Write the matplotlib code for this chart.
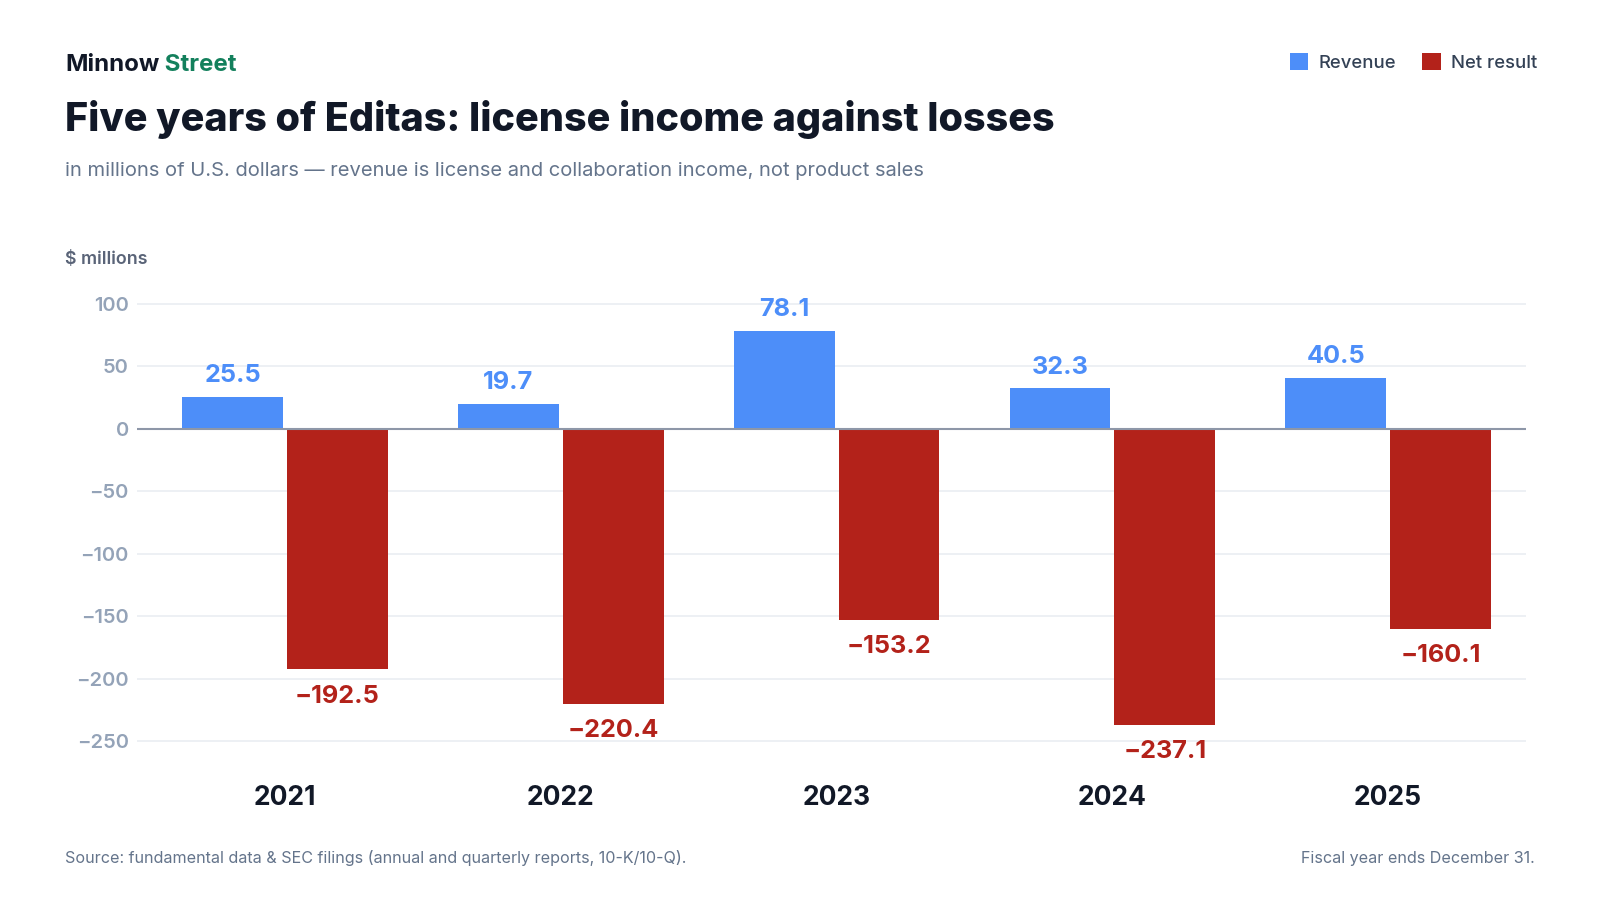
import matplotlib
matplotlib.use("Agg")
import matplotlib.pyplot as plt
import numpy as np

years = ["2021", "2022", "2023", "2024", "2025"]
revenue = [25.5, 19.7, 78.1, 32.3, 40.5]
net_result = [-192.5, -220.4, -153.2, -237.1, -160.1]
yticks = [-250, -200, -150, -100, -50, 0, 50, 100]

BLUE = "#4d8ef9"
RED = "#b3221a"
DARK = "#111827"
GREEN = "#13805c"
SLATE = "#64748b"
TICK = "#94a3b8"

plt.rcParams["font.family"] = ["Inter", "DejaVu Sans"]

W, H = 1600, 900
fig = plt.figure(figsize=(16, 9), dpi=100)
fig.patch.set_facecolor("white")

def fx(px):
    return px / W

def fy(py):
    return 1 - py / H

# axes placement
ax = fig.add_axes([fx(137), fy(766.2), fx(1389), 475 / H])
x = np.arange(len(years))
off = 0.19
bw = 0.366
b1 = ax.bar(x - off, revenue, width=bw, color=BLUE, label="Revenue", zorder=3)
b2 = ax.bar(x + off, net_result, width=bw, color=RED, label="Net result", zorder=3)

ax.set_xlim(-0.537, 4.5)
ax.set_ylim(-270, 110)
ax.set_yticks(yticks)
ax.set_yticklabels([f"{v}".replace("-", "\u2212") for v in yticks])
ax.set_xticks(x)
ax.set_xticklabels(years)
for s in ax.spines.values():
    s.set_visible(False)
ax.tick_params(axis="y", length=0, pad=5.8, labelsize=14.5, labelcolor=TICK)
ax.tick_params(axis="x", length=0, pad=13.5, labelsize=19, labelcolor=DARK)
for t in ax.get_yticklabels():
    t.set_fontweight("semibold")
for t in ax.get_xticklabels():
    t.set_fontweight("bold")
ax.grid(axis="y", color="#e8ecf1", linewidth=1.1, zorder=0)
ax.axhline(0, color="#8e97a8", linewidth=1.5, zorder=4)

for xi, v in zip(x, revenue):
    ax.annotate(f"{v:.1f}", xy=(xi - off, v), xytext=(0, 10.6), textcoords="offset points",
                ha="center", va="baseline", fontsize=18.2, fontweight="bold", color=BLUE)
for xi, v in zip(x + off, net_result):
    ax.annotate(f"{v:.1f}".replace("-", "\u2212"), xy=(xi, v), xytext=(0, -11),
                textcoords="offset points", ha="center", va="top", fontsize=18.2,
                fontweight="bold", color=RED)

# header
t1 = fig.text(fx(65), fy(70.7), "Minnow", fontsize=17.3, fontweight="bold", color=DARK, va="baseline")
fig.canvas.draw()
ax.annotate(" Street", xy=(1, 0), xycoords=t1, ha="left", va="bottom",
            fontsize=17.3, fontweight="bold", color=GREEN, annotation_clip=False)
fig.text(fx(65), fy(131), "Five years of Editas: license income against losses",
         fontsize=28.5, fontweight=800, color=DARK, va="baseline")
fig.text(fx(65), fy(176),
         "in millions of U.S. dollars \u2014 revenue is license and collaboration income, not product sales",
         fontsize=14.5, color=SLATE, va="baseline")
fig.text(fx(65), fy(264), "$ millions", fontsize=12.8, fontweight="semibold", color="#5a6478", va="baseline")

# legend
fig.legend(handles=[b1, b2], labels=["Revenue", "Net result"], loc="upper right",
           bbox_to_anchor=(fx(1537), fy(53)), ncol=2, frameon=False,
           handlelength=1.0, handleheight=1.0, handletextpad=0.55, columnspacing=1.4,
           borderpad=0, borderaxespad=0,
           prop={"size": 13.3, "weight": "medium"}, labelcolor="#334155")

# footer
fig.text(fx(65), fy(863),
         "Source: fundamental data & SEC filings (annual and quarterly reports, 10-K/10-Q).",
         fontsize=11.6, color=SLATE, va="baseline")
fig.text(fx(1535), fy(863), "Fiscal year ends December 31.", fontsize=11.6, color=SLATE,
         va="baseline", ha="right")

fig.savefig("out.png", dpi=100, facecolor="white")
